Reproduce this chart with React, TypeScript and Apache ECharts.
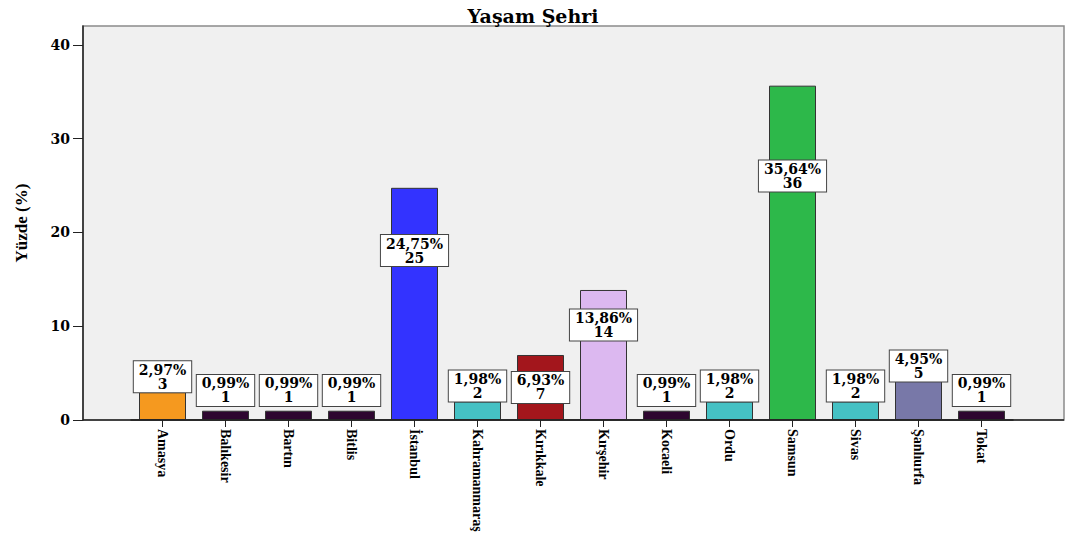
import { useEffect, useRef } from 'react';
import * as echarts from 'echarts';

const categories = ['Amasya', 'Balıkesir', 'Bartın', 'Bitlis', 'İstanbul', 'Kahramanmaraş', 'Kırıkkale', 'Kırşehir', 'Kocaeli', 'Ordu', 'Samsun', 'Sivas', 'Şanlıurfa', 'Tokat'];
const counts = [3, 1, 1, 1, 25, 2, 7, 14, 1, 2, 36, 2, 5, 1];
const percents = [2.97, 0.99, 0.99, 0.99, 24.75, 1.98, 6.93, 13.86, 0.99, 1.98, 35.64, 1.98, 4.95, 0.99];
const yTicks = [0, 10, 20, 30, 40];

const barColors = ['#f5991f', '#2e0630', '#2e0630', '#2e0630', '#3333ff', '#45c1c4', '#a3161c', '#dcb8f0', '#2e0630', '#45c1c4', '#2db84a', '#45c1c4', '#7878a8', '#2e0630'];

// SPSS-like label placement (in axis units)
function labelAnchor(v: number) {
  if (v < 4) return Math.max(v, 1.5) + 1.65;
  if (v < 6) return v + 0.8;
  if (v < 10) return v * 0.5;
  return v * 0.73;
}

export default function App() {
  const ref = useRef<HTMLDivElement>(null);
  useEffect(() => {
    const chart = echarts.init(ref.current!, null, { renderer: 'svg' });
    const option: any = {
      animation: false,
      backgroundColor: '#ffffff',
      title: {
        text: 'Yaşam Şehri',
        left: 'center',
        top: 1,
        textStyle: { fontFamily: 'DejaVu Serif', fontWeight: 'bold', fontSize: 19, color: '#000' },
      },
      grid: { left: 131, right: 53, top: 26, bottom: 116 },
      graphic: [
        {
          type: 'rect',
          z: -10,
          silent: true,
          shape: { x: 83, y: 26, width: 981, height: 394 },
          style: { fill: '#f0f0f0', stroke: '#8a8a8a', lineWidth: 1.5 },
        },
        {
          type: 'line',
          z: 100,
          silent: true,
          shape: { x1: 83, y1: 420, x2: 1064, y2: 420 },
          style: { stroke: '#222', lineWidth: 1.5 },
        },
      ],
      xAxis: {
        type: 'category',
        data: categories,
        axisLine: { show: true, lineStyle: { color: '#222', width: 1.5 } },
        axisTick: { show: true, alignWithLabel: true, length: 7, lineStyle: { color: '#222' } },
        axisLabel: {
          rotate: -90,
          margin: 9,
          interval: 0,
          fontFamily: 'Liberation Serif',
          fontWeight: 'bold',
          fontSize: 14,
          color: '#000',
        },
      },
      yAxis: {
        type: 'value',
        min: 0,
        max: 42,
        interval: 10,
        offset: 48,
        name: 'Yüzde (%)',
        nameLocation: 'middle',
        nameGap: 53,
        nameTextStyle: { fontFamily: 'Liberation Serif', fontWeight: 'bold', fontSize: 17, color: '#000' },
        axisLine: { show: true, lineStyle: { color: '#222', width: 1.5 } },
        axisTick: { show: true, length: 10, lineStyle: { color: '#222' }, customValues: yTicks },
        axisLabel: {
          fontFamily: 'DejaVu Serif',
          fontWeight: 'bold',
          fontSize: 14,
          color: '#000',
          margin: 13,
          customValues: yTicks,
        },
        splitLine: { show: false },
      },
      series: [
        {
          type: 'bar',
          barWidth: 47,
          data: percents.map((p, i) => ({ value: p, itemStyle: { color: barColors[i] } })),
          itemStyle: { borderColor: '#333', borderWidth: 1 },
        },
        {
          type: 'scatter',
          z: 5,
          symbolSize: 1,
          itemStyle: { color: 'rgba(0,0,0,0)', opacity: 1 },
          data: percents.map((p, i) => [i, labelAnchor(p)]),
          label: {
            show: true,
            position: 'inside',
            opacity: 1,
            formatter: (pr: any) =>
              `${percents[pr.dataIndex].toFixed(2).replace('.', ',')}%\n${counts[pr.dataIndex]}`,
            backgroundColor: '#ffffff',
            borderColor: '#444',
            borderWidth: 1,
            padding: [2, 5, 1, 5],
            fontFamily: 'DejaVu Serif',
            fontWeight: 'bold',
            fontSize: 14,
            lineHeight: 14,
            color: '#000',
          },
        },
      ],
    };
    chart.setOption(option);
    return () => chart.dispose();
  }, []);
  return <div ref={ref} style={{ position: 'fixed', left: 0, top: 0, width: 1066, height: 536 }} />;
}
